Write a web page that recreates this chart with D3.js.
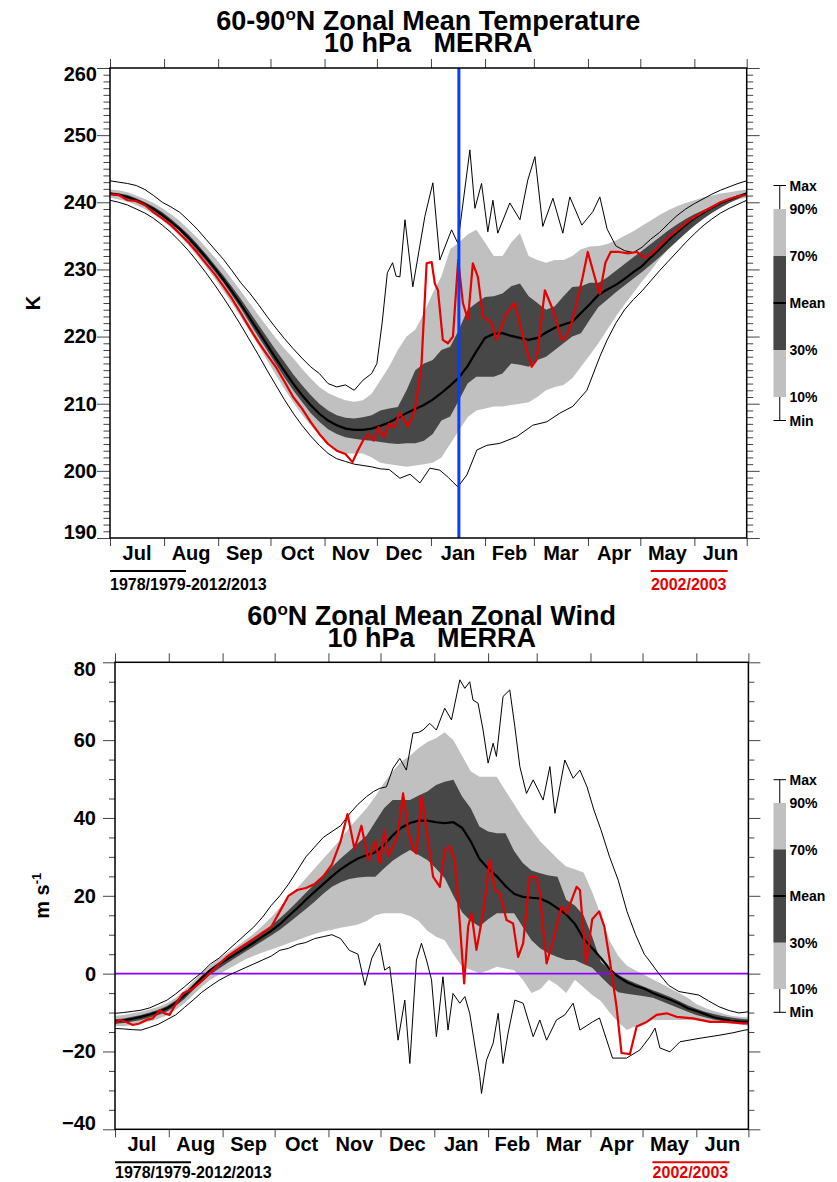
<!DOCTYPE html>
<html>
<head>
<meta charset="utf-8">
<script src="https://cdn.jsdelivr.net/npm/d3@7"></script>
<style>
    body { margin: 0; background: #fff; }
    svg { display: block; font-family: "Liberation Sans", Arial, Helvetica, sans-serif; font-weight: bold; }
</style>
</head>
<body>
<svg id="chart" width="837" height="1182"></svg>
<script>
// day of season, counted from 1 July; percentile bands are read every 5 days
const days = d3.range(0, 366, 5);
const monthStarts = [0, 31, 62, 92, 123, 153, 184, 215, 243, 274, 304, 335, 365];
const monthNames = ["Jul", "Aug", "Sep", "Oct", "Nov", "Dec", "Jan", "Feb", "Mar", "Apr", "May", "Jun"];
const legendNames = ["Max", "90%", "70%", "Mean", "30%", "10%", "Min"];
const climLabel = "1978/1979-2012/2013";
const yearLabel = "2002/2003";
const markerDay = 200;

// 60-90N temperature, K
const tP90 = [241.9, 241.8, 241.5, 241.0, 240.5, 239.9, 239.1, 238.2, 237.2, 236.0,
    234.7, 233.3, 231.8, 230.2, 228.5, 226.8, 225.0, 223.2, 221.5, 219.8,
    218.2, 216.8, 215.2, 213.8, 212.5, 211.6, 211.0, 210.5, 210.3, 210.5,
    211.5, 213.5, 215.5, 218.0, 220.0, 221.0, 223.5, 226.5, 229.0, 233.0,
    234.0, 235.2, 235.9, 234.0, 232.0, 232.0, 234.0, 235.4, 232.0, 231.4,
    231.0, 231.4, 231.4, 232.0, 233.0, 233.4, 233.5, 233.8, 234.3, 235.0,
    235.7, 236.5, 237.3, 238.1, 238.8, 239.4, 239.9, 240.3, 240.7, 241.0,
    241.3, 241.5, 241.7, 241.9];
const tP70 = [241.5, 241.35, 241.1, 240.6, 240.0, 239.35, 238.5, 237.5, 236.4, 235.2,
    233.8, 232.3, 230.7, 229.1, 227.4, 225.6, 223.7, 221.8, 219.9, 218.0,
    216.2, 214.4, 212.8, 211.3, 210.0, 209.0, 208.3, 207.9, 207.8, 208.0,
    208.3, 209.0, 209.3, 209.5, 212.0, 215.0, 216.0, 216.5, 218.0, 218.5,
    221.0, 224.0, 225.0, 225.9, 226.0, 226.4, 227.5, 227.9, 226.0, 225.0,
    224.0, 224.5, 226.0, 227.4, 227.5, 228.0, 228.0, 228.8, 229.8, 230.8,
    231.8, 232.8, 233.8, 234.8, 235.8, 236.7, 237.5, 238.2, 238.8, 239.4,
    239.9, 240.4, 240.9, 241.5];
const tMean = [241.3, 241.1, 240.8, 240.3, 239.7, 239.0, 238.1, 237.1, 236.0, 234.7,
    233.3, 231.8, 230.2, 228.5, 226.7, 224.8, 222.8, 220.8, 218.8, 216.8,
    214.9, 213.0, 211.3, 209.8, 208.5, 207.5, 206.8, 206.3, 206.1, 206.1,
    206.3, 206.7, 207.2, 207.9, 208.6, 209.2, 209.8, 210.6, 211.6, 212.7,
    213.9, 215.6, 217.8, 219.8, 220.4, 220.5, 220.1, 219.8, 219.5, 219.8,
    220.6, 221.3, 221.8, 222.2, 223.5, 224.8, 226.2, 227.0, 227.7, 228.6,
    229.6, 230.5, 231.8, 233.0, 234.3, 235.5, 236.6, 237.6, 238.4, 239.2,
    239.9, 240.4, 240.9, 241.3];
const tP30 = [241.1, 240.9, 240.5, 240.0, 239.4, 238.7, 237.8, 236.8, 235.7, 234.3,
    232.8, 231.3, 229.7, 228.0, 226.1, 224.2, 222.1, 220.0, 218.0, 215.9,
    213.9, 212.0, 210.3, 208.6, 207.3, 206.2, 205.5, 205.0, 204.8, 204.6,
    204.5, 204.3, 204.1, 204.0, 204.1, 204.1, 204.5, 205.5, 207.5, 208.1,
    210.5, 213.0, 214.0, 214.0, 214.0, 214.5, 216.0, 215.8, 215.5, 216.5,
    217.0, 218.0, 219.0, 220.0, 220.5, 222.5, 224.4, 225.5, 226.6, 227.6,
    228.6, 229.6, 230.7, 231.8, 233.0, 234.2, 235.4, 236.5, 237.5, 238.4,
    239.2, 239.9, 240.5, 241.1];
const tP10 = [240.7, 240.4, 240.1, 239.6, 239.0, 238.2, 237.3, 236.2, 235.0, 233.6,
    232.0, 230.4, 228.7, 226.8, 224.9, 222.9, 220.8, 218.7, 216.5, 214.3,
    212.2, 210.2, 208.4, 206.8, 205.3, 204.0, 203.0, 202.6, 202.6, 202.6,
    202.0, 201.2, 201.0, 200.8, 200.6, 200.8, 201.0, 201.2, 202.0, 204.0,
    206.0, 208.0, 209.0, 209.3, 209.6, 209.6, 209.8, 210.0, 210.2, 211.0,
    212.0, 212.5, 212.8, 213.8, 215.5, 217.2, 219.0, 221.0, 223.0, 224.8,
    226.5, 228.2, 229.8, 231.5, 233.0, 234.5, 235.8, 237.0, 238.0, 238.9,
    239.6, 240.1, 240.4, 240.7];
// [day, K]
const tMax = [[0, 243.2], [5, 243.0], [10, 242.8], [15, 242.5], [20, 241.9], [25, 241.0], [30, 240.0],
    [35, 239.3], [40, 238.5], [45, 237.3], [50, 236.0], [55, 234.5], [60, 233.0], [65, 231.5], [70, 229.8],
    [75, 228.0], [80, 226.5], [85, 224.8], [90, 223.0], [95, 221.3], [100, 219.7], [105, 218.2], [110, 216.8],
    [115, 215.5], [120, 214.5], [125, 213.0], [130, 212.5], [135, 212.8], [140, 212.0], [145, 213.5],
    [150, 214.5], [153, 216], [156, 222], [159, 229.5], [162, 231], [164, 229], [166.2, 228.9], [169.1, 237.4],
    [173.6, 227.4], [180.5, 237.9], [185.1, 242.9], [189.1, 231.4], [195.8, 235.9], [199.4, 233.9],
    [206.3, 247.8], [209.2, 239.1], [213, 242.8], [216.6, 235.6], [219.5, 240.3], [222.3, 235.4],
    [229.2, 239.9], [235, 237.4], [239.5, 243.3], [243.6, 246.8], [248.1, 236.4], [253.9, 240.6],
    [259.6, 235.4], [263.6, 240.8], [270.5, 236.6], [276.8, 238.6], [280.8, 240.8], [285, 236], [290, 233.5],
    [295, 232.8], [300, 232.5], [305, 233.3], [310, 234.5], [315, 235.5], [320, 236.8], [325, 238.0],
    [330, 239.0], [335, 239.8], [340, 240.5], [345, 241.2], [350, 241.8], [355, 242.3], [360, 242.8], [365, 243.2]];
const tMin = [[0, 240.3], [5, 240.0], [10, 239.6], [15, 239.0], [20, 238.4], [25, 237.6], [30, 236.6],
    [35, 235.5], [40, 234.2], [45, 232.8], [50, 231.2], [55, 229.5], [60, 227.7], [65, 225.8], [70, 223.8],
    [75, 221.7], [80, 219.5], [85, 217.3], [90, 215.0], [95, 212.8], [100, 210.6], [105, 208.6], [110, 206.8],
    [115, 205.2], [120, 203.8], [125, 202.6], [130, 201.8], [135, 201.4], [140, 201.0], [145, 200.8],
    [150, 200.6], [155, 200.3], [160, 200.2], [166.2, 198.9], [172, 199.5], [177.7, 198.2], [183.4, 200.4],
    [189.1, 200.1], [194, 199], [199.4, 197.6], [204.6, 199.4], [210.3, 203.1], [216, 203.8], [223.5, 204.1],
    [233.2, 205.1], [242.4, 206.8], [250.4, 207.3], [257.9, 208.6], [265.3, 209.6], [273.4, 212],
    [280.8, 217], [285, 219.5], [290, 222.0], [295, 224.0], [300, 225.5], [305, 226.8], [310, 228.3],
    [315, 229.8], [320, 231.2], [325, 232.6], [330, 234.0], [335, 235.3], [340, 236.5], [345, 237.5],
    [350, 238.4], [355, 239.1], [360, 239.7], [365, 240.3]];
const tYear = [[0, 241.2], [5, 241.1], [10, 240.3], [15, 240.2], [20, 239.6], [25, 238.5], [30, 237.6],
    [35, 236.6], [40, 235.3], [45, 234.0], [50, 232.5], [55, 230.9], [60, 229.3], [65, 227.5], [70, 225.6],
    [75, 223.5], [80, 221.3], [85, 219.2], [90, 217.3], [95, 215.5], [100, 213.3], [105, 211.0], [110, 209.3],
    [115, 207.3], [120, 205.5], [125, 204.0], [130, 203.0], [135, 202.5], [139, 201.3], [142, 203],
    [145, 204.5], [148, 205.5], [151, 204.5], [154, 206.5], [157, 205], [160, 207], [163, 206.5],
    [166.2, 208.6], [170.8, 206.6], [174.8, 209.1], [176.5, 212], [178.6, 216], [181.5, 230.9], [184.4, 231.1],
    [186.2, 227.9], [188, 226.9], [190.8, 219.5], [193.7, 219], [196.6, 220], [199.6, 231.4], [202.3, 225],
    [205.2, 222.5], [208, 230.9], [210.9, 228.9], [213.8, 223], [218.7, 222], [221.6, 219.5], [227.3, 223.5],
    [232, 225], [236.7, 220], [241.7, 215.5], [244.5, 216.5], [249.3, 226.9], [253.9, 224], [258.9, 219.5],
    [261.7, 220], [265.3, 222.5], [271, 228.9], [273.9, 232.6], [278.9, 227.9], [280.8, 226.4], [284, 231],
    [287, 232.6], [292, 232.6], [297, 232.4], [302, 232.6], [306, 231.8], [310, 232.2], [315, 233.5],
    [320, 234.8], [325, 235.8], [330, 236.9], [335, 237.8], [340, 238.6], [345, 239.3], [350, 240.0],
    [355, 240.5], [360, 240.9], [365, 241.1]];

// 60N zonal wind, m/s
const uP90 = [-10.8, -10.6, -10.2, -9.8, -9.2, -8.5, -7.6, -6.2, -4.3, -2.0,
    0.2, 2.2, 3.8, 5.4, 7.0, 8.6, 10.3, 12.3, 14.5, 17.0,
    19.5, 22.0, 24.5, 27.0, 29.5, 32.0, 34.5, 37.5, 40.0, 42.5,
    45.5, 49.0, 52.0, 54.5, 56.0, 58.0, 59.5, 60.5, 62.0, 60.0,
    56.0, 52.0, 50.6, 50.6, 50.6, 47.0, 43.5, 40.0, 37.0, 34.0,
    31.8, 29.5, 27.5, 26.8, 26.0, 21.0, 15.0, 8.5, 4.5, 2.0,
    0.8, -0.3, -1.5, -2.6, -3.8, -5.0, -6.2, -7.8, -8.8, -9.6,
    -10.2, -10.8, -11.1, -11.3];
const uP70 = [-11.7, -11.5, -11.1, -10.6, -10.0, -9.3, -8.3, -6.9, -5.0, -2.8,
    -0.6, 1.3, 2.9, 4.4, 5.9, 7.4, 9.0, 10.6, 12.3, 14.2,
    16.3, 18.5, 20.8, 23.0, 25.2, 27.4, 29.6, 31.5, 33.5, 35.5,
    39.0, 42.5, 44.6, 44.6, 44.6, 45.8, 46.8, 48.5, 49.3, 49.8,
    45.5, 42.5, 37.8, 36.5, 36.1, 36.1, 31.5, 28.4, 26.5, 25.8,
    25.2, 24.9, 19.0, 17.5, 15.0, 9.5, 3.0, 1.0, -0.3, -1.5,
    -2.5, -3.4, -4.3, -5.1, -6.0, -7.0, -8.1, -9.0, -9.8, -10.4,
    -10.9, -11.3, -11.6, -11.8];
const uMean = [-12.3, -12.0, -11.6, -11.1, -10.5, -9.8, -8.9, -7.5, -5.6, -3.4,
    -1.1, 0.9, 2.4, 3.8, 5.2, 6.6, 8.0, 9.5, 11.0, 12.7,
    14.8, 16.8, 19.0, 21.0, 23.0, 25.0, 26.8, 28.3, 29.6, 30.4,
    31.2, 33.0, 35.5, 37.5, 38.7, 39.3, 39.3, 38.9, 38.7, 38.9,
    37.5, 34.0, 29.5, 27.0, 25.0, 22.5, 20.5, 19.7, 19.5, 19.3,
    18.3, 16.8, 15.2, 12.8, 9.0, 6.5, 4.0, 1.2, -0.8, -2.2,
    -3.2, -3.9, -5.0, -5.9, -6.7, -7.7, -8.9, -9.6, -10.4, -11.2,
    -11.7, -12.1, -12.3, -12.4];
const uP30 = [-12.9, -12.7, -12.3, -11.9, -11.3, -10.6, -9.7, -8.3, -6.5, -4.3,
    -2.2, -0.2, 1.3, 2.8, 4.2, 5.6, 7.0, 8.4, 9.8, 11.3,
    13.0, 14.8, 16.6, 18.5, 20.5, 22.3, 23.5, 24.3, 24.7, 24.9,
    24.9, 27.0, 29.0, 30.5, 31.8, 30.5, 29.2, 27.0, 24.5, 20.0,
    15.8, 13.5, 12.1, 14.0, 15.5, 15.5, 15.5, 12.0, 8.6, 6.5,
    5.2, 4.3, 3.5, 3.5, 2.5, 1.5, -0.8, -3.0, -4.8, -5.2,
    -5.5, -5.8, -6.2, -7.1, -8.0, -8.9, -9.8, -10.6, -11.2, -11.8,
    -12.2, -12.4, -12.6, -12.7];
const uP10 = [-13.4, -13.5, -13.2, -12.8, -12.3, -11.6, -10.7, -9.3, -7.6, -5.5,
    -3.4, -1.6, -0.2, 1.1, 2.4, 3.6, 4.6, 5.4, 6.2, 7.0,
    7.8, 8.6, 9.4, 10.2, 10.8, 11.3, 11.8, 12.2, 12.6, 13.5,
    15.0, 15.5, 15.5, 15.5, 14.8, 13.5, 11.0, 9.5, 8.6, 5.0,
    1.8, 1.0, 0.1, 0.8, 1.8, 1.3, 0.9, -1.6, -5.0, -4.0,
    -1.6, -3.0, -5.0, -1.6, -3.5, -5.5, -7.0, -10.0, -12.5, -14.5,
    -13.5, -12.5, -12.0, -11.9, -11.9, -11.9, -11.9, -12.0, -12.2, -12.4,
    -12.7, -12.9, -13.1, -13.3];
// [day, m/s]
const uMax = [[0, -10.2], [5, -10.0], [10, -9.7], [15, -9.4], [20, -8.8], [25, -7.8], [30, -6.8],
    [35, -5.2], [40, -3.4], [45, -1.5], [50, 0.3], [55, 2.5], [60, 4.0], [65, 6.0], [70, 8.0], [75, 10.0],
    [80, 12.0], [85, 14.5], [90, 17.5], [95, 20.0], [100, 23.0], [105, 26.5], [110, 30.0], [115, 32.5],
    [120, 35.0], [125, 36.5], [130, 38.0], [135, 41.0], [140, 43.5], [145, 45.5], [149, 46.8], [152.5, 47.6],
    [156.4, 48], [160.2, 52.8], [164.1, 55.3], [167.9, 52.3], [171.7, 61.8], [175, 62], [177.5, 62.6],
    [181.4, 64.3], [185.2, 62.6], [190, 68.2], [193.9, 65.2], [198.7, 75.5], [201.6, 73.3], [204.4, 75],
    [206.3, 70.3], [209.2, 69.5], [212.1, 62.6], [215, 54.1], [217.9, 59.2], [219.8, 55.8], [223.6, 71.2],
    [227.5, 72.9], [230.4, 63.5], [233.3, 53.2], [237.1, 46.3], [241, 49.8], [246.7, 44.6], [250.6, 53.2],
    [253.5, 41.2], [259.2, 54.9], [264, 50.2], [267.9, 52.3], [272, 48], [276, 42], [280, 37], [285, 30],
    [290, 24], [295, 16], [300, 10], [305, 5], [307.6, 3.5], [313.4, 0], [319, -3], [324.9, -4.6], [330, -5.0],
    [336.4, -5.5], [342, -7], [348, -8.5], [354, -9.5], [359.5, -10.1], [365, -9.8]];
const uMin = [[0, -14.1], [5, -14.2], [10, -14.4], [15, -14.5], [20, -13.8], [25, -13.0], [30, -11.8],
    [35, -10.6], [40, -8.7], [45, -6.8], [50, -4.8], [55, -3.2], [60, -1.7], [65, -0.5], [70, 0.5], [75, 1.5],
    [80, 2.5], [85, 3.5], [90, 4.5], [95, 6.0], [100, 6.5], [105, 7.5], [110, 8.0], [115, 9.0], [120, 9.5],
    [125, 10.0], [130, 9.0], [135, 6.0], [140, 5.0], [144, -3], [148, 4], [152.5, 7.8], [155.4, 0.9],
    [158.3, 1.8], [160.2, -5.1], [163.1, -17.1], [167, -6.8], [169.9, -23.1], [173.7, 3.5], [176.6, 7.8],
    [179.5, 3.5], [182.4, -1.6], [185.2, -16.2], [189, -0.8], [191.9, -14.5], [194.8, -5.1], [198.7, -7.6],
    [201.6, -5.9], [204.4, -10.2], [210.2, -26.5], [211.2, -30.8], [214.1, -22.2], [217.9, -17.9],
    [220.8, -10.2], [223.6, -23.1], [226.5, -15.3], [230.4, -6.8], [235.2, -7.6], [241, -16.2], [244.8, -11.9],
    [248.7, -17.1], [254.4, -11.9], [259.2, -10.6], [264, -7.6], [267.9, -14.5], [275.2, -12.4],
    [279.2, -11.4], [286.7, -21.7], [294.8, -21.7], [302.5, -19.6], [308.3, -16.2], [311.2, -14], [314, -19.1],
    [319.8, -20.1], [325.6, -17.5], [337.1, -16.6], [348.6, -15.8], [356.1, -15.2], [363, -14.5], [365, -14.4]];
const uYear = [[0, -12.8], [2.6, -11.9], [6.5, -12.4], [10.3, -13.2], [14.1, -12.8], [18, -11.9],
    [21.8, -11.5], [25.7, -9.4], [28.5, -10.2], [31.4, -10.6], [35.3, -7.6], [39.1, -5.1], [44.9, -3.8],
    [50.6, -1.6], [54.5, 0.1], [60.3, 2.6], [65, 4.5], [70, 6.0], [75, 7.5], [80, 9.0], [85, 10.5], [90, 12.0],
    [95, 16.0], [100, 20.0], [105, 21.5], [110, 22.0], [115, 23.0], [120, 25.0], [125, 28.0], [130, 34.0],
    [134, 41.0], [138, 32.0], [142, 38.0], [146, 29.0], [150, 34.0], [152.5, 28.4], [155.4, 36.9],
    [157.3, 30.1], [160.2, 32.6], [163.1, 36.1], [166, 46.3], [168.9, 36.9], [171.7, 31.8], [173.7, 30.9],
    [176.6, 45.5], [178.5, 40.3], [183.3, 24.9], [187.2, 22.3], [190, 31.8], [192.9, 32.6], [195.8, 29.2],
    [198.7, 12.9], [201.2, -2.5], [203.5, 12.1], [205.4, 15.5], [208.3, 6.1], [212.1, 15.5], [216, 29.2],
    [218.9, 21.5], [221.8, 20.6], [225.6, 13.8], [229.4, 12.9], [232.3, 4.3], [235.2, 7.8], [239, 24.9],
    [242.9, 24.9], [244.8, 20.6], [248.7, 2.6], [252.5, 8.6], [257.3, 17.2], [260.2, 15.5], [266, 22.3],
    [267.9, 21.5], [271.5, 2.5], [275, 14], [279, 16], [282, 12], [285.1, 3.5], [289, -8.5], [291.9, -20.4],
    [296.7, -20.7], [300.6, -13.6], [306.4, -12.4], [312.1, -10.6], [317.9, -10.2], [323.6, -11.1],
    [333, -11.5], [342.8, -12.4], [352.5, -12.4], [361.9, -12.8], [365, -12.8]];

class SeasonPanel {
    tickColor = "#444";

    constructor(svg, box, yDomain, bands, lines) {
        this.svg = svg;
        this.box = box;
        this.yDomain = yDomain;
        this.lines = lines;
        this.rows = days.map((d, i) => ({
            day: d,
            p90: bands.p90[i], p70: bands.p70[i], mean: bands.mean[i],
            p30: bands.p30[i], p10: bands.p10[i]
        }));
    }

    initialize(cfg) {
        const b = this.box;
        const self = this;
        this.x = d3.scaleLinear().domain([0, 365]).range([b.left, b.right]);
        this.y = d3.scaleLinear().domain(this.yDomain).range([b.bottom, b.top]);
        this.container = this.svg.append("g");

        this.container.append("clipPath").attr("id", "clip-" + cfg.id)
            .append("rect")
            .attr("x", b.left).attr("y", b.top)
            .attr("width", b.right - b.left).attr("height", b.bottom - b.top);
        const plot = this.container.append("g").attr("clip-path", `url(#clip-${cfg.id})`);

        const band = (lo, hi) => d3.area()
            .x(d => self.x(d.day)).y0(d => self.y(d[lo])).y1(d => self.y(d[hi]));
        const pairLine = d3.line().x(d => self.x(d[0])).y(d => self.y(d[1]));

        plot.append("path").attr("d", band("p10", "p90")(this.rows)).attr("fill", "#c0c0c0");
        plot.append("path").attr("d", band("p30", "p70")(this.rows)).attr("fill", "#474747");

        if (cfg.zeroLine) {
            plot.append("line")
                .attr("x1", b.left).attr("x2", b.right)
                .attr("y1", this.y(0)).attr("y2", this.y(0))
                .attr("stroke", "#8a00ff").attr("stroke-width", 1.6);
        }

        [this.lines.max, this.lines.min].forEach(s => plot.append("path").attr("d", pairLine(s))
            .attr("fill", "none").attr("stroke", "#000").attr("stroke-width", 1));
        plot.append("path")
            .attr("d", d3.line().x(d => self.x(d.day)).y(d => self.y(d.mean))(this.rows))
            .attr("fill", "none").attr("stroke", "#000").attr("stroke-width", 2.2);
        plot.append("path").attr("d", pairLine(this.lines.year))
            .attr("fill", "none").attr("stroke", "#e60000").attr("stroke-width", 2.2)
            .attr("stroke-linejoin", "round");

        if (cfg.marker !== undefined) {
            plot.append("line")
                .attr("x1", this.x(cfg.marker)).attr("x2", this.x(cfg.marker))
                .attr("y1", b.top).attr("y2", b.bottom)
                .attr("stroke", "#0a3cff").attr("stroke-width", 3);
        }

        this.drawAxes(cfg);
        this.drawTitles(cfg);
        this.drawLegend(cfg);
    }

    drawAxes(cfg) {
        const b = this.box;
        const [lo, hi] = this.yDomain;
        const majors = d3.range(lo, hi + 0.001, cfg.major);
        const minors = d3.range(lo, hi + 0.001, cfg.minor).filter(v => !majors.includes(v));
        const style = g => {
            g.select(".domain").remove();
            g.selectAll(".tick line").attr("stroke", this.tickColor);
        };

        const left = this.container.append("g").attr("transform", `translate(${b.left},0)`);
        left.call(d3.axisLeft(this.y).tickValues(majors).tickSize(cfg.majorLen).tickPadding(cfg.labelPad))
            .call(style);
        left.selectAll("text")
            .attr("font-size", 20).attr("font-family", null).attr("fill", "#000")
            .attr("dy", d => d === hi ? "0.64em" : d === lo ? "0em" : "0.32em");
        this.container.append("g").attr("transform", `translate(${b.left},0)`)
            .call(d3.axisLeft(this.y).tickValues(minors).tickSize(cfg.majorLen / 2).tickFormat(""))
            .call(style);

        this.container.append("g").attr("transform", `translate(${b.right},0)`)
            .call(d3.axisRight(this.y).tickFormat("").tickValues(majors).tickSize(cfg.majorLen)).call(style);
        this.container.append("g").attr("transform", `translate(${b.right},0)`)
            .call(d3.axisRight(this.y).tickFormat("").tickValues(minors).tickSize(cfg.majorLen / 2)).call(style);

        this.container.append("g").attr("transform", `translate(0,${b.top})`)
            .call(d3.axisTop(this.x).tickValues(monthStarts).tickSize(9).tickFormat("")).call(style);
        this.container.append("g").attr("transform", `translate(0,${b.bottom})`)
            .call(d3.axisBottom(this.x).tickValues(monthStarts).tickSize(8).tickFormat("")).call(style);

        this.container.append("rect")
            .attr("x", b.left).attr("y", b.top)
            .attr("width", b.right - b.left).attr("height", b.bottom - b.top)
            .attr("fill", "none").attr("stroke", "#000").attr("stroke-width", 1.5);

        this.container.append("g").selectAll("text")
            .data(monthNames)
            .join("text")
            .attr("x", (m, i) => this.x((monthStarts[i] + monthStarts[i + 1]) / 2))
            .attr("y", b.bottom + 22)
            .attr("text-anchor", "middle")
            .attr("font-size", 20)
            .text(m => m);

        // period notes under the axis
        const noteY = b.bottom + 33;
        this.container.append("line")
            .attr("x1", b.left).attr("x2", b.left + 76).attr("y1", noteY).attr("y2", noteY)
            .attr("stroke", "#000").attr("stroke-width", 2);
        this.container.append("text")
            .attr("x", b.left).attr("y", b.bottom + cfg.noteDy).attr("font-size", 16).text(climLabel);
        this.container.append("line")
            .attr("x1", b.right - 96).attr("x2", b.right - 19).attr("y1", noteY).attr("y2", noteY)
            .attr("stroke", "#e60000").attr("stroke-width", 2);
        this.container.append("text")
            .attr("x", b.right - 58).attr("y", b.bottom + cfg.noteDy).attr("text-anchor", "middle")
            .attr("font-size", 16).attr("fill", "#e60000").text(yearLabel);
    }

    drawTitles(cfg) {
        const b = this.box;
        const cx = (b.left + b.right) / 2;
        const t1 = this.container.append("text")
            .attr("x", cx).attr("y", cfg.titleY).attr("text-anchor", "middle").attr("font-size", 27);
        t1.append("tspan").text(cfg.title[0]);
        t1.append("tspan").attr("font-size", 17).attr("dy", -10).text("o");
        t1.append("tspan").attr("dy", 10).text(cfg.title[1]);
        this.container.append("text")
            .attr("x", cx).attr("y", cfg.titleY + 22).attr("text-anchor", "middle")
            .attr("font-size", 27).attr("xml:space", "preserve").text("10 hPa   MERRA");

        const cy = (b.top + b.bottom) / 2;
        const yl = this.container.append("text")
            .attr("transform", `translate(${cfg.yTitleX},${cy}) rotate(-90)`)
            .attr("text-anchor", "middle").attr("font-size", 20);
        yl.append("tspan").text(cfg.yTitle[0]);
        if (cfg.yTitle[1]) {
            yl.append("tspan").attr("font-size", 13).attr("dy", -8).text(cfg.yTitle[1]);
        }
    }

    drawLegend(cfg) {
        const L = cfg.legend;
        const pos = [L.c - 2 * L.q - L.w, L.c - 2 * L.q, L.c - L.q, L.c, L.c + L.q, L.c + 2 * L.q, L.c + 2 * L.q + L.w];
        const g = this.container.append("g");
        const x0 = 773.5, x1 = 786, xm = (x0 + x1) / 2;
        g.append("line").attr("x1", xm).attr("x2", xm).attr("y1", pos[0]).attr("y2", pos[6])
            .attr("stroke", "#000").attr("stroke-width", 1);
        [pos[0], pos[6]].forEach(p => g.append("line")
            .attr("x1", x0).attr("x2", x1).attr("y1", p).attr("y2", p)
            .attr("stroke", "#000").attr("stroke-width", 1));
        g.append("rect").attr("x", x0).attr("y", pos[1]).attr("width", x1 - x0)
            .attr("height", pos[5] - pos[1]).attr("fill", "#c0c0c0");
        g.append("rect").attr("x", x0).attr("y", pos[2]).attr("width", x1 - x0)
            .attr("height", pos[4] - pos[2]).attr("fill", "#474747");
        g.append("line").attr("x1", x0).attr("x2", x1).attr("y1", pos[3]).attr("y2", pos[3])
            .attr("stroke", "#000").attr("stroke-width", 2);
        g.selectAll("text.leg")
            .data(legendNames)
            .join("text")
            .attr("class", "leg")
            .attr("x", 789.5)
            .attr("y", (n, i) => pos[i])
            .attr("dy", "0.36em")
            .attr("font-size", 14)
            .text(n => n);
    }
}

const svg = d3.select("#chart");

const tempPanel = new SeasonPanel(svg, { left: 110, right: 746.7, top: 68, bottom: 538 }, [190, 260],
    { p90: tP90, p70: tP70, mean: tMean, p30: tP30, p10: tP10 },
    { max: tMax, min: tMin, year: tYear });
tempPanel.initialize({
    id: "temp", major: 10, minor: 1, majorLen: 13, labelPad: 0, noteDy: 52,
    title: ["60-90", "N Zonal Mean Temperature"], titleY: 30,
    yTitle: ["K"], yTitleX: 40,
    legend: { c: 303, q: 47, w: 23.5 },
    marker: markerDay
});

const windPanel = new SeasonPanel(svg, { left: 115, right: 748.4, top: 662.3, bottom: 1129.3 }, [-40, 80],
    { p90: uP90, p70: uP70, mean: uMean, p30: uP30, p10: uP10 },
    { max: uMax, min: uMin, year: uYear });
windPanel.initialize({
    id: "wind", major: 20, minor: 5, majorLen: 12, labelPad: 7, noteDy: 48.5,
    title: ["60", "N Zonal Mean Zonal Wind"], titleY: 625,
    yTitle: ["m s", "-1"], yTitleX: 49,
    legend: { c: 896, q: 46.5, w: 23.3 },
    zeroLine: true
});
</script>
</body>
</html>
